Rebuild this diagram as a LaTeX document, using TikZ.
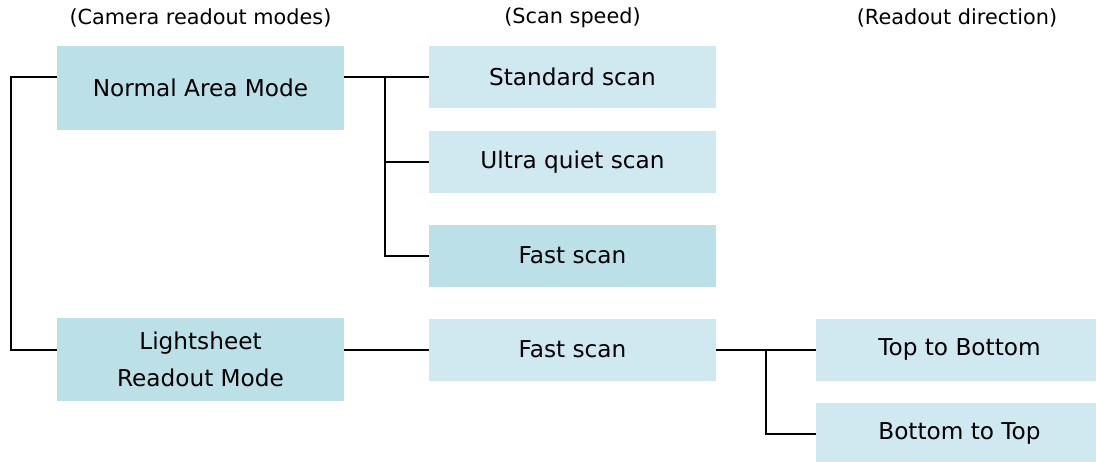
\documentclass[tikz,border=0pt]{standalone}
\usepackage{fontspec}
\setmainfont{DejaVu Sans}
\usepackage{xcolor}
\definecolor{modeblue}{HTML}{BCE0E8}
\definecolor{scanblue}{HTML}{D0E8EF}

\begin{document}
\begin{tikzpicture}[x=0.5pt,y=-0.5pt,
  box/.style={rectangle,inner sep=0pt,minimum width=143.5pt,minimum height=31pt,
    font=\fontsize{11.6}{14}\selectfont,align=center},
  mode/.style={box,fill=modeblue},
  scan/.style={box,fill=scanblue},
  head/.style={font=\fontsize{10.4}{12}\selectfont},
  link/.style={line width=1pt}]
\useasboundingbox (0,0) rectangle (1096,461);
\node[head] (h1) at (200.5,18) {(Camera readout modes)};
\node[head] (h2) at (572.5,18) {(Scan speed)};
\node[head] (h3) at (957,18) {(Readout direction)};
\node[mode,minimum height=42pt] (normal) at (200.5,88) {Normal Area Mode};
\node[mode,minimum height=41.5pt,font=\fontsize{11.6}{18.5}\selectfont] (lsm) at (200.5,359.5) {Lightsheet\\Readout Mode};
\node[scan] (std) at (572.5,77) {Standard scan};
\node[scan] (uq) at (572.5,162) {Ultra quiet scan};
\node[mode] (fast) at (572.5,255.5) {Fast scan};
\node[scan] (lfast) at (572.5,349.5) {Fast scan};
\node[scan] (tb) at (959.5,349.5) {Top to Bottom};
\node[scan] (bt) at (959.5,433.5) {Bottom to Top};
\coordinate (lbus) at (11,0);
\coordinate (sbus) at (385,0);
\coordinate (rbus) at (766,0);
\draw[link] (normal.west |- std.west) -- (lbus |- std.west) -- (lbus |- lfast.west) -- (lsm.west |- lfast.west);
\draw[link] (normal.east |- std.west) -- (std.west);
\draw[link] (sbus |- std.west) |- (uq.west);
\draw[link] (sbus |- std.west) |- (fast.west);
\draw[link] (lsm.east |- lfast.west) -- (lfast.west);
\draw[link] (lfast.east) -- (tb.west);
\draw[link] (rbus |- tb.west) |- (bt.west);
\end{tikzpicture}
\end{document}
